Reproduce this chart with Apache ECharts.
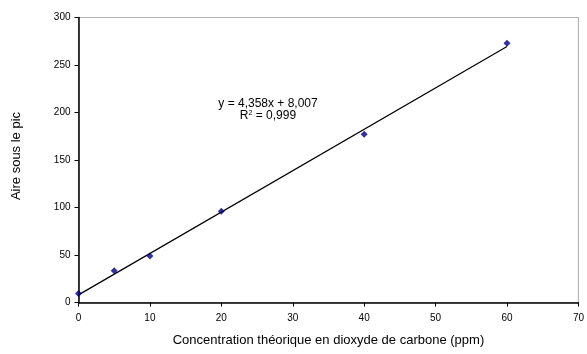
<!DOCTYPE html>
<html><head><meta charset="utf-8">
<script src="https://cdn.jsdelivr.net/npm/echarts@6/dist/echarts.min.js"></script>
<style>html,body{margin:0;padding:0;background:#fff}#c{width:587px;height:354px}</style>
</head><body><div id="c"></div>
<script>
var concentrations = [0, 5, 10, 20, 40, 60];
var areas = [9.5, 33.3, 49, 96, 177, 273];
var trendRange = [0, 60];
var slope = 4.358, intercept = 8.007;
var xTicks = [0, 10, 20, 30, 40, 50, 60, 70];
var yTicks = [0, 50, 100, 150, 200, 250, 300];
var eqLine1 = 'y = 4,358x + 8,007';
var eqLine2 = 'R{sup|2} = 0,999';

var points = concentrations.map(function(x, i){ return [x, areas[i]]; });
var trend = trendRange.map(function(x){ return [x, slope * x + intercept]; });
var font = 'Liberation Sans, Arial, sans-serif';
var chart = echarts.init(document.getElementById('c'), null, {renderer:'canvas'});
chart.setOption({
  animation:false,
  backgroundColor:'#fff',
  grid:{left:78.5, right:7.5, top:17.5, bottom:51.5, show:true, borderColor:'#b4b4b4', borderWidth:1.2},
  xAxis:{type:'value', min:xTicks[0], max:xTicks[xTicks.length-1], interval:10,
    name:'Concentration théorique en dioxyde de carbone (ppm)', nameLocation:'middle', nameGap:31,
    nameTextStyle:{fontFamily:font, fontSize:13, color:'#000'},
    axisLine:{show:true, lineStyle:{color:'#000', width:1.5}},
    axisTick:{show:true, inside:false, length:4, lineStyle:{color:'#000'}},
    axisLabel:{fontFamily:font, fontSize:10, color:'#000', margin:11},
    splitLine:{show:false}},
  yAxis:{type:'value', min:yTicks[0], max:yTicks[yTicks.length-1], interval:50,
    name:'Aire sous le pic', nameLocation:'middle', nameGap:55.5,
    nameTextStyle:{fontFamily:font, fontSize:13, color:'#000', padding:[0,0,0,8]},
    axisLine:{show:true, lineStyle:{color:'#000', width:1.5}},
    axisTick:{show:true, inside:false, length:4, lineStyle:{color:'#000'}},
    axisLabel:{fontFamily:font, fontSize:10, color:'#000', margin:8},
    splitLine:{show:false}},
  graphic:[{type:'text', x:268, y:98, style:{
    text: eqLine1 + '\n' + eqLine2, align:'center', verticalAlign:'top',
    fontFamily:font, fontSize:12, fill:'#000', lineHeight:12,
    rich:{sup:{fontSize:7, verticalAlign:'top', padding:[0,0,5,0], fontFamily:font}}}}],
  series:[
    {type:'line', data:trend, symbol:'none', lineStyle:{color:'#000', width:1.2}, z:2},
    {type:'scatter', data:points, symbol:'diamond', symbolSize:7, itemStyle:{color:'#000080'}, z:3}
  ]
});
</script></body></html>
